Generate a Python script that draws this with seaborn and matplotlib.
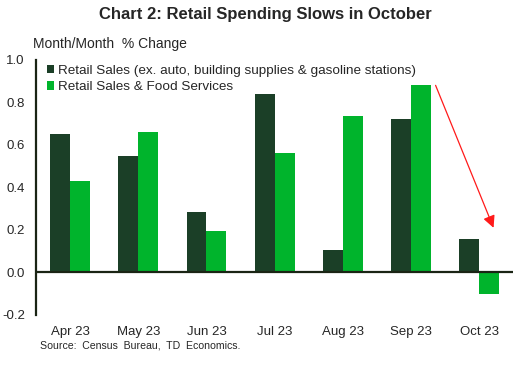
import matplotlib
matplotlib.use("Agg")
import matplotlib.pyplot as plt
import seaborn as sns
import pandas as pd

months = ["Apr 23", "May 23", "Jun 23", "Jul 23", "Aug 23", "Sep 23", "Oct 23"]
series_names = ["Retail Sales (ex. auto, building supplies & gasoline stations)",
                "Retail Sales & Food Services"]
core_sales = [0.65, 0.55, 0.285, 0.84, 0.105, 0.72, 0.155]
total_sales = [0.43, 0.66, 0.195, 0.56, 0.735, 0.88, -0.10]
yticks = [-0.2, 0.0, 0.2, 0.4, 0.6, 0.8, 1.0]
colors = ["#1B3F27", "#00B42C"]

df = pd.DataFrame({
    "month": months * 2,
    "value": core_sales + total_sales,
    "series": [series_names[0]] * len(months) + [series_names[1]] * len(months),
})

sns.set_theme(style="white")
plt.rcParams["font.family"] = ["Liberation Sans", "DejaVu Sans"]

fig = plt.figure(figsize=(5.16, 3.86), dpi=100)
ax = fig.add_axes([0.0698, 0.184, 0.925, 0.661])

sns.barplot(data=df, x="month", y="value", hue="series", palette=colors,
            saturation=1, width=0.585, linewidth=0, ax=ax, order=months,
            hue_order=series_names)

ax.set_ylim(-0.2, 1.0)
ax.set_xlim(-0.5, 6.5)
ax.set_yticks(yticks)
ax.set_yticklabels([f"{v:.1f}" for v in yticks], fontsize=9.5)
ax.tick_params(axis="x", labelsize=9.5, pad=8, length=0)
ax.tick_params(axis="y", length=0, pad=8)
ax.set_xlabel("")
ax.set_ylabel("")
for s in ["top", "right", "bottom"]:
    ax.spines[s].set_visible(False)
ax.spines["left"].set_color("#1a2414")
ax.spines["left"].set_linewidth(1.6)
ax.axhline(0, color="#1a2414", linewidth=1.6, zorder=3)

leg = ax.legend(loc="upper left", bbox_to_anchor=(0.006, 1.012), frameon=False,
                fontsize=9.7, handlelength=0.55, handleheight=0.6,
                handletextpad=0.25, labelspacing=0.33, borderaxespad=0.2)

# arrow from Sep green bar top toward Oct
ax.annotate("", xy=(6.21, 0.21), xytext=(5.36, 0.88),
            arrowprops=dict(arrowstyle="-|>", color="#ff1a1a", lw=0.9,
                            mutation_scale=18, shrinkA=0, shrinkB=0))

fig.text(0.514, 0.963, "Chart 2: Retail Spending Slows in October", ha="center",
         va="center", fontsize=12, fontweight="bold")
fig.text(0.064, 0.887, "Month/Month  % Change", ha="left", va="center", fontsize=10)
fig.text(0.0775, 0.106, "Source:  Census  Bureau,  TD  Economics.", ha="left",
         va="center", fontsize=7.6)

fig.savefig("out.png", dpi=100)
